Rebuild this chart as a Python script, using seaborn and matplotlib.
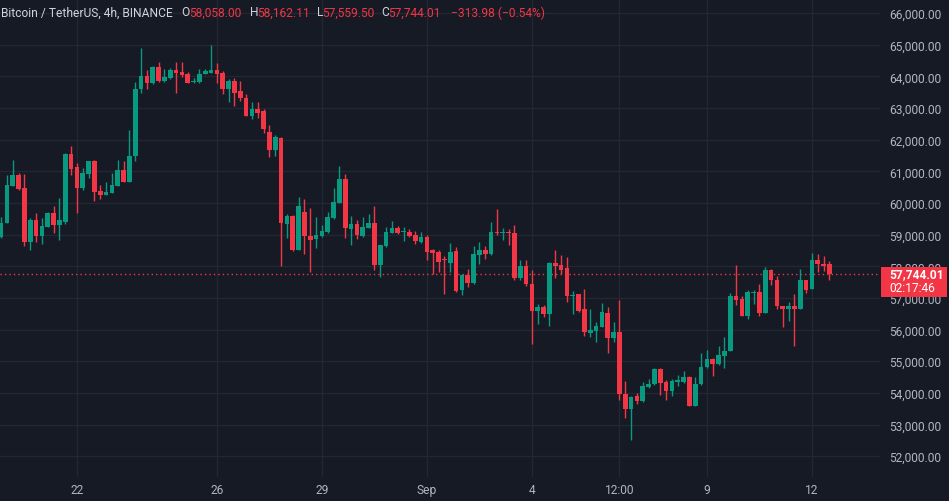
import numpy as np
import pandas as pd
import matplotlib
matplotlib.use("Agg")
import matplotlib.pyplot as plt
import seaborn as sns
from matplotlib.patches import Rectangle

# ---------------- data (BTC/USDT 4h candles) ----------------
opens = [58910, 59376, 60550, 60889, 60466, 58772, 59460, 58952, 59249, 59693, 59302, 59407, 61556,
         61122, 60466, 60921, 61312, 60381, 60265, 60328, 60550, 61048, 60677, 61471, 63587, 64011,
         63778, 64296, 63852, 63936, 64201, 64138, 64063, 63820, 63820, 64085, 64117, 64201, 64095,
         63587, 63852, 63534, 63323, 62762, 62952, 62899, 62250, 61661, 62053, 59333, 59587, 58529,
         59700, 58952, 58846, 58952, 59090, 59513, 60011, 60751, 59175, 59334, 58952, 59217, 59354,
         58032, 58635, 59058, 59196, 59090, 59090, 58984, 58772, 58910, 58508, 58455, 58244, 58100,
         58476, 57238, 57714, 57471, 58370, 58508, 58381, 59069, 59058, 59090, 59037, 57640, 58000,
         57450, 56582, 56709, 56497, 58106, 58032, 57947, 57047, 57111, 56656, 55883, 55968, 56095,
         56530, 55736, 55916, 53979, 53482, 53905, 53746, 54191, 54276, 54752, 54360, 54064, 54350,
         54350, 54508, 53588, 54276, 54805, 55069, 54910, 55175, 55334, 57048, 56973, 56444, 57153,
         57185, 56518, 57894, 57576, 56751, 56656, 56751, 56656, 57555, 57291, 58190, 58085, 58058.00]
highs = [59566, 60889, 61365, 60942, 60920, 59513, 59693, 59513, 59725, 59915, 60169, 61577, 61788,
         61259, 61100, 61333, 61365, 60571, 60677, 60942, 61344, 61312, 62317, 63820, 64910, 64201,
         64328, 64466, 64222, 64275, 64466, 64466, 64138, 63958, 64243, 64243, 64995, 64434, 64169,
         63905, 63958, 63852, 63429, 63185, 63185, 62973, 62476, 62159, 62085, 59651, 59619, 60201,
         60117, 59831, 59566, 59302, 59725, 60466, 61153, 60920, 59587, 59460, 59566, 59651, 59905,
         58687, 59249, 59439, 59270, 59227, 59164, 59122, 59090, 58984, 58560, 58529, 58317, 58740,
         58614, 57746, 57926, 58635, 58772, 58635, 59407, 59799, 59196, 59164, 59302, 58211, 58211,
         57894, 56815, 56762, 58127, 58508, 58349, 58296, 57217, 57132, 57291, 56656, 56233, 56836,
         56709, 56233, 56942, 54381, 53905, 54011, 54350, 54434, 54784, 54784, 54403, 54455, 54561,
         54699, 54540, 54487, 55249, 55355, 55101, 55493, 55757, 57154, 58031, 57050, 57238, 57260,
         57449, 57978, 57926, 57682, 56751, 56868, 57132, 57926, 57576, 58423, 58381, 58317, 58162.11]
lows = [58880, 59354, 60540, 60413, 58635, 58508, 58772, 58719, 59228, 59037, 58825, 59333, 60868,
        59672, 60413, 60783, 60074, 60116, 60243, 60307, 60540, 60656, 60656, 61333, 63481, 63587,
        63746, 63820, 63831, 63905, 63481, 63979, 63778, 63778, 63799, 64063, 64095, 63778, 63429,
        63185, 63058, 63217, 62762, 62656, 62688, 62212, 61450, 61471, 58000, 58878, 58487, 58508,
        58402, 57820, 58592, 58931, 59058, 59492, 59989, 58878, 58666, 58846, 58910, 59196, 57894,
        57662, 58614, 59037, 59016, 58804, 58910, 58698, 58740, 58190, 57767, 57820, 57132, 57820,
        57185, 57079, 57344, 57450, 58085, 58243, 58349, 58984, 58825, 58666, 57555, 57576, 57365,
        55545, 56180, 56413, 56127, 57640, 57767, 56868, 56497, 56550, 55809, 55756, 55598, 56074,
        55249, 55598, 53768, 53217, 52498, 53662, 53725, 54149, 54255, 53937, 53768, 53905, 54223,
        54328, 53588, 53588, 54255, 54784, 54540, 54889, 54784, 55313, 56762, 56420, 56338, 56815,
        56444, 56518, 57396, 56656, 56074, 56285, 55492, 56656, 57153, 57270, 57820, 57852, 57559.50]
closes = [59376, 60571, 60889, 60434, 58772, 59460, 58952, 59270, 59693, 59302, 59460, 61556, 61069,
          60487, 60942, 61312, 60339, 60254, 60349, 60571, 61048, 60677, 61492, 63608, 64011, 63778,
          64296, 63852, 63979, 64201, 64095, 64032, 63799, 63852, 64085, 64169, 64190, 64063, 63587,
          63852, 63481, 63301, 62762, 62952, 62846, 62339, 61661, 62085, 59354, 59587, 58529, 59905,
          58952, 58825, 58984, 59122, 59566, 60042, 60751, 59196, 59334, 58984, 59227, 59354, 58032,
          58666, 59090, 59196, 59037, 59122, 58952, 58804, 58910, 58455, 58423, 58138, 58190, 58466,
          57217, 57714, 57471, 58381, 58508, 58381, 59069, 59037, 59090, 59037, 57640, 58000, 57428,
          56582, 56709, 56497, 58106, 58000, 57894, 57047, 57079, 56603, 55915, 55989, 56127, 56550,
          55736, 55916, 53979, 53482, 53884, 53746, 54223, 54297, 54752, 54328, 54064, 54381, 54413,
          54508, 53588, 54297, 54826, 55069, 54910, 55207, 55334, 57048, 56942, 56444, 57185, 57185,
          56518, 57894, 57555, 56730, 56656, 56751, 56656, 57555, 57238, 58190, 58063, 58000, 57744.01]
times = pd.date_range("2024-08-19 20:00", periods=len(opens), freq="4h")

tick_labels = ["22", "26", "29", "Sep", "4", "12:00", "9", "12"]
tick_times = pd.to_datetime(["2024-08-22 00:00", "2024-08-26 00:00", "2024-08-29 00:00",
                             "2024-09-01 00:00", "2024-09-04 00:00", "2024-09-06 12:00",
                             "2024-09-09 00:00", "2024-09-12 00:00"])
price_ticks = list(range(52000, 66001, 1000))
last_price = 57744.01
countdown = "02:17:46"
symbol = "Bitcoin / TetherUS, 4h, BINANCE"
ohlc_letters = ["O", "H", "L", "C"]
ohlc_values = ["58,058.00", "58,162.11", "57,559.50", "57,744.01"]
change_text = "\u2212313.98 (\u22120.54%)"

# ---------------- style ----------------
bg = "#161A25"
grid_color = "#232733"
up_color = "#089981"
down_color = "#F23645"
text_color = "#B2B5BE"
title_color = "#D1D4DC"

sns.set_theme(style="dark", rc={"axes.facecolor": bg, "figure.facecolor": bg,
                                "grid.color": grid_color, "axes.edgecolor": bg,
                                "xtick.color": text_color, "ytick.color": text_color})
plt.rcParams["font.family"] = ["Roboto", "DejaVu Sans"]

W, H = 949, 502
fs = 8.64  # 12 px

df = pd.DataFrame({"time": times, "open": opens, "high": highs, "low": lows, "close": closes})
df["x"] = np.arange(len(df))
df["up"] = df["close"] >= df["open"]
step = pd.Timedelta(hours=4)
tick_x = [(t - times[0]) / step for t in tick_times]

fig = plt.figure(figsize=(W / 100, H / 100), dpi=100)
ax = fig.add_axes([0, 1 - 478 / H, 880 / W, 478 / H])
ax.set_facecolor(bg)

colors = np.where(df["up"], up_color, down_color)
ax.vlines(df["x"], df["low"], df["high"], colors=colors, linewidth=1.0, zorder=3)
body_lo = np.minimum(df["open"], df["close"])
body_h = np.maximum(np.abs(df["close"] - df["open"]), 32)
ax.bar(df["x"], body_h, bottom=body_lo, width=0.8, color=colors, linewidth=0, zorder=4)

ax.axhline(last_price, color=down_color, linewidth=1, linestyle=(0, (1, 2.2)), zorder=2)

ax.set_xlim(-0.2, 150.66)
ax.set_ylim(51344, 66442)
ax.yaxis.tick_right()
ax.set_yticks(price_ticks)
ax.set_yticklabels([f"{p:,.2f}" for p in price_ticks])
ax.set_xticks(tick_x)
ax.set_xticklabels(tick_labels)
ax.tick_params(axis="y", length=0, pad=6.5, labelsize=fs, colors=text_color)
ax.tick_params(axis="x", length=0, pad=4.0, labelsize=fs, colors=text_color)
ax.grid(True, color=grid_color, linewidth=1)
ax.set_axisbelow(True)
sns.despine(ax=ax, left=True, bottom=True, right=True, top=True)

# last price tag
fig.add_artist(Rectangle((881 / W, 1 - 298 / H), 66 / W, 30 / H, transform=fig.transFigure,
                         facecolor=down_color, edgecolor="none", zorder=5))
fig.text(889 / W, 1 - 275 / H, f"{last_price:,.2f}", color="white", fontsize=fs,
         fontweight="bold", ha="left", va="center", zorder=6)
fig.text(889 / W, 1 - 288.5 / H, countdown, color="white", fontsize=fs,
         ha="left", va="center", zorder=6)

# header legend
ty = 1 - 13 / H
fig.text(1 / W, ty, symbol, color=title_color, fontsize=fs, ha="left", va="center")
letter_x = [181.5, 250, 316.5, 381]
value_x = [189, 257.5, 322.5, 388]
for lx, vx, l, v in zip(letter_x, value_x, ohlc_letters, ohlc_values):
    fig.text(lx / W, ty, l, color=title_color, fontsize=fs, ha="left", va="center")
    fig.text(vx / W, ty, v, color=down_color, fontsize=fs, ha="left", va="center")
fig.text(451 / W, ty, change_text, color=down_color, fontsize=fs, ha="left", va="center")

fig.savefig("out.png", dpi=100, facecolor=bg)
